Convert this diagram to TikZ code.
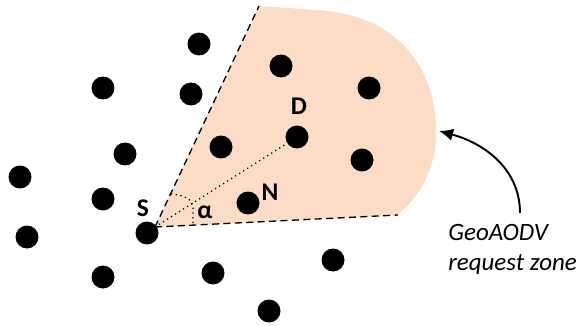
\documentclass[tikz,border=0pt]{standalone}
\usepackage{fontspec}
\setmainfont{Carlito}
\usetikzlibrary{arrows.meta}
\definecolor{zonefill}{RGB}{252,220,198}
\begin{document}
\begin{tikzpicture}[
  x=0.02cm, y=0.02cm,
  dotnode/.style={circle, fill=black, inner sep=0pt, minimum size=0.46cm},
  lbl/.style={font=\fontsize{14.5}{18}\selectfont\bfseries, inner sep=0pt},
  zoneedge/.style={line width=0.75pt, dash pattern=on 4pt off 2.5pt},
  zonelabel/.style={font=\fontsize{14.2}{19}\selectfont\itshape, align=left, inner sep=0pt},
  pointer/.style={line width=1.1pt, -{Latex[length=8pt, width=7pt]}}
]
  \useasboundingbox (0,0) rectangle (581,325);

  % Zona de peticion (sector con borde curvo)
  \coordinate (apex) at (155,98);
  \coordinate (ztop) at (259,319);
  \coordinate (zbot) at (398,110);
  \fill[zonefill] (apex) -- (ztop) -- (317,315)
    .. controls (400,310) and (436,255) .. (436,193)
    .. controls (436,155) and (420,130) .. (zbot) -- cycle;
  \draw[zoneedge] (apex) -- (ztop);
  \draw[zoneedge] (apex) -- (zbot);

  % Nodos de la red
  \node[dotnode] (n1) at (199,281) {};
  \node[dotnode] (n2) at (103,237) {};
  \node[dotnode] (n3) at (191,231) {};
  \node[dotnode] (n4) at (281,259) {};
  \node[dotnode] (n5) at (369,237) {};
  \node[dotnode] (D) at (297,188) {};
  \node[dotnode] (n7) at (362,165) {};
  \node[dotnode] (n8) at (125,171) {};
  \node[dotnode] (n9) at (221,178) {};
  \node[dotnode] (n10) at (20,148) {};
  \node[dotnode] (n11) at (103,126) {};
  \node[dotnode] (N) at (248,122) {};
  \node[dotnode] (S) at (147,92) {};
  \node[dotnode] (n14) at (27,88) {};
  \node[dotnode] (n15) at (103,48) {};
  \node[dotnode] (n16) at (213,52) {};
  \node[dotnode] (n17) at (333,65) {};
  \node[dotnode] (n18) at (269,14) {};

  % Linea S-D y angulo alfa
  \draw[dotted, line width=0.7pt] (apex) -- (D);
  \coordinate (a1) at (171,131);
  \coordinate (a2) at (193,117);
  \coordinate (a3) at (193,100);
  \draw[dotted, line width=0.7pt] (a1) to[out=-5, in=90] (a2) -- (a3);

  % Etiquetas
  \node[lbl] (lS) at (143,117) {S};
  \node[lbl] (lD) at (299,219) {D};
  \node[lbl] (lN) at (270,133) {N};
  \node[lbl] (lalpha) at (205,113) {α};

  \node[zonelabel, anchor=west] (zlbl1) at (448,93) {GeoAODV};
  \node[zonelabel, anchor=west] (zlbl2) at (448,60) {request zone};

  % Flecha hacia la zona
  \coordinate (tail) at (520,112);
  \coordinate (tip) at (439,194);
  \draw[pointer] (tail) to[out=90, in=-15] (tip);

\end{tikzpicture}
\end{document}
